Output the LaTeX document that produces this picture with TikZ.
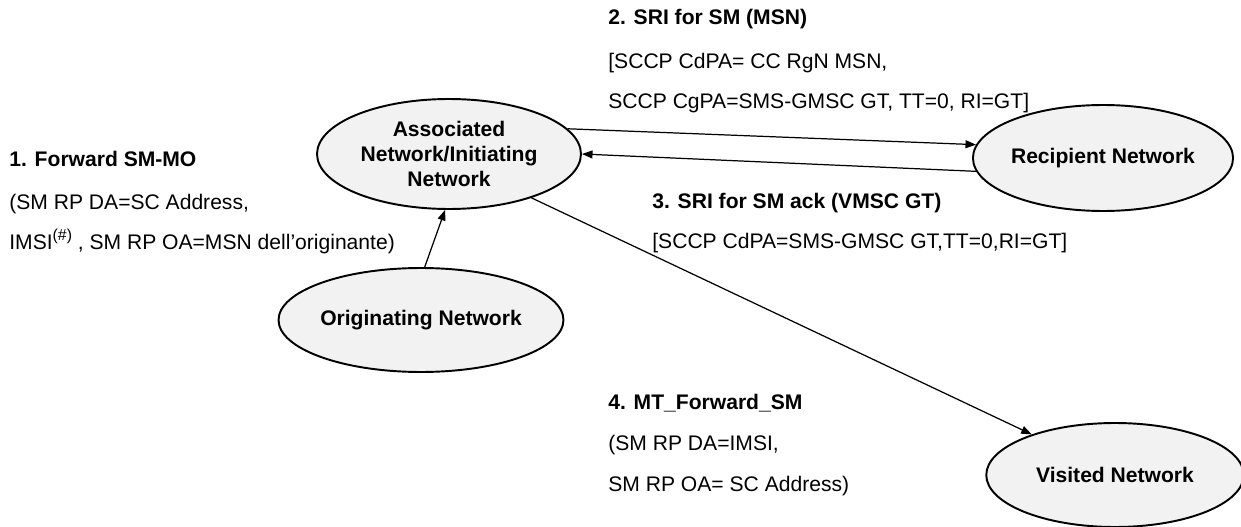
\documentclass[tikz,border=0pt]{standalone}
\usepackage{fontspec}
\setmainfont{Liberation Sans}
\usetikzlibrary{shapes.geometric,arrows.meta}

\begin{document}
\begin{tikzpicture}[x=0.02cm,y=-0.02cm,
    net/.style={ellipse, draw, line width=1.1pt, fill=black!5, inner sep=0pt,
      align=center, font=\fontsize{12}{14.2}\selectfont\bfseries},
    msg/.style={anchor=base west, inner sep=0pt, font=\fontsize{12}{14}\selectfont},
    flow/.style={line width=0.7pt, -{Triangle[length=6pt,width=4.5pt]}}]
      \useasboundingbox (0,0) rectangle (1241,527);
      \node[net, minimum width=5.28cm, minimum height=2.2cm] (assoc) at (449,154)  {Associated\\Network/Initiating\\Network};
      \node[net, minimum width=5.2cm, minimum height=2.12cm] (recip) at (1103,158) {Recipient Network};
      \node[net, minimum width=5.05cm, minimum height=2.08cm] (orig) at (421,320) {Originating Network};
      \node[net, minimum width=5.15cm, minimum height=2.08cm] (visit) at (1115,475) {Visited Network};
      \draw[flow] (orig.86)   -- (assoc.266);
      \draw[flow] (assoc.12)  -- (recip.174);
      \draw[flow] (recip.186) -- (assoc.0);
      \draw[flow] (assoc.-28) -- (visit.154);
      \node[msg] (m1a) at (9,167)   {\textbf{1. Forward SM-MO}};
      \node[msg] (m1b) at (9,209)   {(SM RP DA=SC Address,};
      \node[msg] (m1c) at (9,249)   {IMSI\raisebox{5pt}{\fontsize{9}{9}\selectfont(\#)} , SM RP OA=MSN dell’originante)};
      \node[msg] (m2a) at (608,25)  {\textbf{2. SRI for SM (MSN)}};
      \node[msg] (m2b) at (608,69)  {[SCCP CdPA= CC RgN MSN,};
      \node[msg] (m2c) at (608,109) {SCCP CgPA=SMS-GMSC GT, TT=0, RI=GT]};
      \node[msg] (m3a) at (652,208) {\textbf{3. SRI for SM ack (VMSC GT)}};
      \node[msg] (m3b) at (652,248) {[SCCP CdPA=SMS-GMSC GT,TT=0,RI=GT]};
      \node[msg] (m4a) at (608,409) {\textbf{4. MT\_Forward\_SM}};
      \node[msg] (m4b) at (608,450) {(SM RP DA=IMSI,};
      \node[msg] (m4c) at (608,491) {SM RP OA= SC Address)};
    \end{tikzpicture}
\end{document}
